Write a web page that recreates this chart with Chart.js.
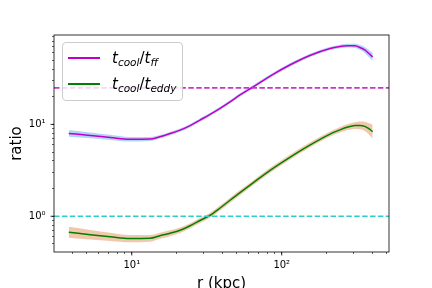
<!DOCTYPE html>
<html lang="en">

<head>
    <meta charset="UTF-8">
    <title>cooling time ratios</title>
    <script src="https://cdn.jsdelivr.net/npm/chart.js"></script>
    <style>
        body { margin: 0; background: #fff; }
        #wrap { position: relative; width: 432px; height: 288px; }
        #legend {
            position: absolute; left: 62px; top: 42px; width: 119px; height: 57px;
            border: 1px solid #cccccc; border-radius: 4px;
            background: rgba(255, 255, 255, 0.8);
            font-family: "DejaVu Sans"; font-style: italic; font-size: 15px; color: #000;
        }
        .row { position: absolute; left: 0; height: 20px; }
        .swatch { position: absolute; left: 5px; width: 32px; height: 1.5px; top: 9px; }
        .lbl { position: absolute; left: 49px; top: 0; line-height: 20px; white-space: nowrap; }
        .lbl span.s { font-size: 10.5px; position: relative; top: 3px; }
        .lbl span.u { font-style: normal; }
    </style>
</head>

<body>
    <div id="wrap">
        <canvas id="ratioChart" width="432" height="288"></canvas>
        <div id="legend">
            <div class="row" style="top: 5px">
                <div class="swatch" style="background: #c000c8"></div>
                <div class="lbl">t<span class="s">cool</span><span class="u">/</span>t<span class="s">ff</span></div>
            </div>
            <div class="row" style="top: 31px">
                <div class="swatch" style="background: #008000"></div>
                <div class="lbl">t<span class="s">cool</span><span class="u">/</span>t<span class="s">eddy</span></div>
            </div>
        </div>
    </div>
    <script>
        // radius in kpc
        const r = [3.8, 5.3, 7.2, 9.7, 13.2, 15.4, 18, 21, 24.5, 28.5, 33.3, 38.8, 45.2, 52.7, 64.4,
            83.6, 114, 154, 210, 245, 272, 307, 332, 358, 378, 404];

        // t_cool / t_ff with its band
        const ratioFF = [7.98, 7.59, 7.21, 6.88, 6.92, 7.33, 7.94, 8.66, 9.70, 11.14, 12.85, 14.95, 17.6,
            20.9, 25.6, 33.6, 44.6, 56.3, 67.1, 70.5, 71.9, 71.6, 68.8, 64.6, 59.9, 54.2];
        const ffHi = [8.67, 8.17, 7.69, 7.29, 7.28, 7.64, 8.27, 9.02, 10.11, 11.61, 13.39, 15.58, 18.34,
            21.78, 26.68, 35.01, 46.47, 58.66, 69.92, 73.67, 75.28, 75.32, 73.07, 69.51, 65.35, 60.11];
        const ffLo = [7.35, 7.05, 6.76, 6.50, 6.58, 7.03, 7.62, 8.31, 9.31, 10.69, 12.33, 14.35, 16.89,
            20.06, 24.57, 32.25, 42.80, 54.03, 64.40, 67.46, 68.67, 68.06, 64.78, 60.04, 54.90, 48.87];

        // t_cool / t_eddy with its band
        const ratioEddy = [0.669, 0.629, 0.598, 0.571, 0.575, 0.613, 0.653, 0.704, 0.788, 0.898, 1.025,
            1.229, 1.494, 1.804, 2.307, 3.16, 4.41, 5.95, 7.84, 8.73, 9.30, 9.70, 9.75, 9.51, 9.04, 8.35];
        const eddyHi = [0.768, 0.709, 0.663, 0.626, 0.626, 0.663, 0.703, 0.755, 0.841, 0.958, 1.094,
            1.311, 1.594, 1.925, 2.455, 3.362, 4.692, 6.331, 8.342, 9.359, 10.03, 10.56, 10.74, 10.67, 10.38, 9.928];
        const eddyLo = [0.583, 0.558, 0.539, 0.521, 0.528, 0.567, 0.607, 0.657, 0.739, 0.842, 0.961,
            1.152, 1.400, 1.691, 2.168, 2.970, 4.145, 5.592, 7.368, 8.144, 8.619, 8.907, 8.848, 8.476, 7.875, 7.023];

        // reference levels (dashed)
        const levelFF = 25;
        const levelEddy = 1;

        // axis limits and ticks
        const xMin = 3.03, xMax = 519;
        const yMin = 0.408, yMax = 94;
        const xTicks = [4, 5, 6, 7, 8, 9, 10, 20, 30, 40, 50, 60, 70, 80, 90, 100, 200, 300, 400, 500];
        const yTicks = [0.5, 0.6, 0.7, 0.8, 0.9, 1, 2, 3, 4, 5, 6, 7, 8, 9, 10, 20, 30, 40, 50, 60, 70, 80, 90];
        const majorX = [10, 100];
        const majorY = [1, 10];
        const tickLabels = { 1: '10⁰', 10: '10¹', 100: '10²' };

        const pts = (ys) => r.map((x, i) => ({ x: x, y: ys[i] }));
        const level = (v) => [{ x: xMin, y: v }, { x: xMax, y: v }];

        const band = (ys, fill, color) => ({
            data: pts(ys), fill: fill, backgroundColor: color, borderWidth: 0,
            borderColor: 'transparent', pointRadius: 0, order: 5, cubicInterpolationMode: 'monotone'
        });

        // box round the plot and the longer major ticks
        const frame = {
            id: 'frame',
            afterDraw(chart) {
                const { ctx, chartArea: a, scales } = chart;
                ctx.save();
                ctx.strokeStyle = '#000';
                ctx.lineWidth = 0.8;
                ctx.strokeRect(a.left, a.top, a.right - a.left, a.bottom - a.top);
                ctx.beginPath();
                majorX.forEach(v => {
                    const px = scales.x.getPixelForValue(v);
                    ctx.moveTo(px, a.bottom); ctx.lineTo(px, a.bottom + 3.5);
                });
                majorY.forEach(v => {
                    const py = scales.y.getPixelForValue(v);
                    ctx.moveTo(a.left, py); ctx.lineTo(a.left - 3.5, py);
                });
                ctx.stroke();
                ctx.restore();
            }
        };

        const tickFont = { family: 'DejaVu Sans', size: 10 };
        const titleFont = { family: 'DejaVu Sans', size: 15 };

        const config = {
            type: 'line',
            data: {
                datasets: [
                    band(ffHi, '+1', 'rgba(60, 150, 240, 0.4)'),
                    band(ffLo, false, 'transparent'),
                    band(eddyHi, '+1', 'rgba(230, 145, 90, 0.5)'),
                    band(eddyLo, false, 'transparent'),
                    {
                        data: pts(ratioFF), borderColor: '#c000c8', borderWidth: 1.5,
                        pointRadius: 0, fill: false, order: 2, cubicInterpolationMode: 'monotone'
                    },
                    {
                        data: pts(ratioEddy), borderColor: '#008000', borderWidth: 1.5,
                        pointRadius: 0, fill: false, order: 2, cubicInterpolationMode: 'monotone'
                    },
                    {
                        data: level(levelFF), borderColor: '#cc33cc', borderWidth: 1.6,
                        borderDash: [5.5, 2.4], pointRadius: 0, fill: false, order: 1
                    },
                    {
                        data: level(levelEddy), borderColor: '#33cccc', borderWidth: 1.6,
                        borderDash: [5.5, 2.4], pointRadius: 0, fill: false, order: 1
                    }
                ]
            },
            options: {
                responsive: false,
                animation: false,
                events: [],
                layout: { padding: { left: 0, right: 43, top: 35, bottom: 0 } },
                plugins: { legend: { display: false }, tooltip: { enabled: false } },
                scales: {
                    x: {
                        type: 'logarithmic', min: xMin, max: xMax,
                        afterFit: (s) => { s.height = 36; },
                        afterBuildTicks: (s) => { s.ticks = xTicks.map(v => ({ value: v })); },
                        border: { display: false },
                        grid: { drawOnChartArea: false, drawTicks: true, tickLength: 2, tickColor: '#000', tickWidth: 0.6 },
                        ticks: {
                            autoSkip: false, maxRotation: 0, color: '#000', font: tickFont, padding: 5,
                            callback: (v) => tickLabels[v] || ''
                        },
                        title: { display: true, text: 'r (kpc)', color: '#000', font: titleFont, padding: { top: 0, bottom: -5 } }
                    },
                    y: {
                        type: 'logarithmic', min: yMin, max: yMax,
                        afterFit: (s) => { s.width = 54; },
                        afterBuildTicks: (s) => { s.ticks = yTicks.map(v => ({ value: v })); },
                        border: { display: false },
                        grid: { drawOnChartArea: false, drawTicks: true, tickLength: 2, tickColor: '#000', tickWidth: 0.6 },
                        ticks: {
                            autoSkip: false, color: '#000', font: tickFont, padding: 6.5,
                            callback: (v) => tickLabels[v] || ''
                        },
                        title: { display: true, text: 'ratio', color: '#000', font: titleFont, padding: { top: 8.5, bottom: 0 } }
                    }
                }
            },
            plugins: [frame]
        };

        const ctx = document.querySelector('#ratioChart').getContext('2d');
        const ratioChart = new Chart(ctx, config);
    </script>
</body>

</html>
